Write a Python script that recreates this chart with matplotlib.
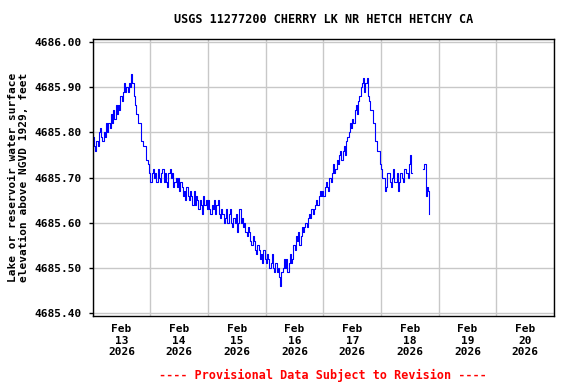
"""
Recreate the USGS lake elevation chart for Cherry Lake near Hetch Hetchy.
Output: out.png (576x384)
"""

import matplotlib

matplotlib.use("Agg")
import matplotlib.pyplot as plt
import numpy as np
import pandas as pd

TITLE = "USGS 11277200 CHERRY LK NR HETCH HETCHY CA"
Y_LABEL = "Lake or reservoir water surface\nelevation above NGVD 1929, feet"
FOOTER = "---- Provisional Data Subject to Revision ----"

# Half-hourly readings from Feb 13 00:00, in hundredths of a foot above 4685.00
MAIN_START = "2026-02-13 00:00"
MAIN_LEVEL = [
    # Feb 13 00:00 - 09:30
    79, 77, 76, 78, 77, 80, 81, 79, 78, 80, 79, 82, 80, 82, 81, 84, 82, 85, 83, 86,
    # 10:00 - 19:30
    84, 86, 85, 88, 87, 89, 91, 89, 90, 89, 91, 90, 93, 91, 88, 86, 84, 84, 82, 82,
    # 20:00 - Feb 14 05:30
    78, 78, 77, 77, 74, 74, 73, 71, 69, 71, 72, 70, 71, 69, 72, 70, 69, 71, 72, 69,
    # Feb 14 06:00 - 15:30
    71, 69, 68, 71, 72, 70, 71, 68, 69, 70, 68, 70, 67, 69, 68, 66, 67, 65, 68, 66,
    # 16:00 - Feb 15 01:30
    65, 67, 66, 64, 67, 64, 66, 65, 63, 65, 64, 62, 66, 64, 65, 63, 65, 63, 62, 64,
    # Feb 15 02:00 - 11:30
    63, 65, 62, 64, 65, 62, 61, 63, 62, 60, 61, 63, 60, 62, 63, 60, 59, 61, 60, 62,
    # 12:00 - 21:30
    58, 60, 63, 60, 61, 59, 60, 58, 57, 59, 58, 56, 55, 57, 56, 54, 53, 55, 54, 52,
    # 22:00 - Feb 16 07:30
    53, 51, 54, 52, 51, 53, 52, 50, 51, 53, 50, 49, 51, 49, 50, 48, 46, 49, 50, 52,
    # Feb 16 08:00 - 17:30
    50, 52, 49, 51, 53, 51, 52, 55, 54, 57, 56, 58, 55, 57, 59, 58, 59, 60, 59, 61,
    # 18:00 - Feb 17 03:30
    62, 61, 63, 62, 63, 64, 65, 64, 66, 67, 66, 67, 66, 68, 69, 68, 67, 70, 69, 71,
    # Feb 17 04:00 - 13:30
    73, 71, 72, 74, 73, 75, 76, 74, 76, 77, 75, 78, 79, 80, 82, 81, 83, 82, 85, 86,
    # 14:00 - 23:30
    84, 87, 88, 90, 91, 92, 89, 91, 92, 88, 87, 85, 85, 82, 82, 78, 78, 76, 76, 73,
    # Feb 18 00:00 - 12:30
    72, 70, 70, 67, 68, 71, 71, 69, 68, 70, 72, 69, 69, 71, 67, 69, 71, 70, 69, 72,
    72, 71, 70, 73, 75, 71,
]

# Short run of readings after the data gap on Feb 18
TAIL_TIMES = [
    "2026-02-18 17:30", "2026-02-18 18:00", "2026-02-18 18:30",
    "2026-02-18 19:00", "2026-02-18 19:30", "2026-02-18 20:00",
]
TAIL_LEVEL = [72, 73, 66, 68, 67, 62]

DAY_LABELS = ["Feb\n13\n2026", "Feb\n14\n2026", "Feb\n15\n2026", "Feb\n16\n2026",
              "Feb\n17\n2026", "Feb\n18\n2026", "Feb\n19\n2026", "Feb\n20\n2026"]
Y_TICKS = [4685.40, 4685.50, 4685.60, 4685.70, 4685.80, 4685.90, 4686.00]

FONT = "DejaVu Sans Mono"
GRID_COLOR = "#c8c8c8"
LINE_COLOR = "#0000ff"


def build_series() -> tuple[pd.DatetimeIndex, np.ndarray]:
    """Join the two runs with a NaN so the gap stays open."""
    main_times = pd.date_range(MAIN_START, periods=len(MAIN_LEVEL), freq="30min")
    gap_time = pd.DatetimeIndex([main_times[-1] + pd.Timedelta(minutes=15)])
    times = main_times.append(gap_time).append(pd.DatetimeIndex(TAIL_TIMES))
    level = np.concatenate([MAIN_LEVEL, [np.nan], TAIL_LEVEL]).astype(float)
    return times, 4685.0 + level / 100.0


def main() -> None:
    times, elevation = build_series()

    fig = plt.figure(figsize=(5.76, 3.84), dpi=100)
    ax = fig.add_axes([0.161, 0.177, 0.801, 0.721])

    ax.plot(times, elevation, color=LINE_COLOR, linewidth=0.8, drawstyle="steps-post")

    start = pd.Timestamp("2026-02-13")
    end = pd.Timestamp("2026-02-21")
    ax.set_xlim(start, end)
    ax.set_ylim(4685.3934, 4686.0066)

    midnights = pd.date_range(start, end, freq="D")
    noons = midnights[:-1] + pd.Timedelta(hours=12)
    ax.set_xticks(midnights, minor=True)
    ax.set_xticks(noons)
    ax.set_xticklabels(DAY_LABELS)
    ax.set_yticks(Y_TICKS)
    ax.set_yticklabels([f"{v:.2f}" for v in Y_TICKS])

    ax.grid(True, which="minor", axis="x", color=GRID_COLOR, linewidth=1.0)
    ax.grid(True, which="major", axis="y", color=GRID_COLOR, linewidth=1.0)
    ax.set_axisbelow(True)

    ax.tick_params(axis="x", which="both", length=0, pad=6)
    ax.tick_params(axis="y", length=3, width=1, pad=5, direction="out")
    for label in ax.get_xticklabels() + ax.get_yticklabels():
        label.set_fontfamily(FONT)
        label.set_fontweight("bold")
        label.set_fontsize(8)
    for label in ax.get_xticklabels():
        label.set_linespacing(1.15)

    for spine in ax.spines.values():
        spine.set_color("black")
        spine.set_linewidth(1.0)

    fig.text(0.561, 0.948, TITLE, ha="center", va="center",
             fontfamily=FONT, fontweight="bold", fontsize=8.5)
    fig.text(0.032, 0.537, Y_LABEL, ha="center", va="center", rotation=90,
             fontfamily=FONT, fontweight="bold", fontsize=8, linespacing=1.1)
    fig.text(0.561, 0.023, FOOTER, ha="center", va="center", color="#ff0000",
             fontfamily=FONT, fontweight="bold", fontsize=8.5)

    fig.savefig("out.png", dpi=100)
    plt.close(fig)


if __name__ == "__main__":
    main()
